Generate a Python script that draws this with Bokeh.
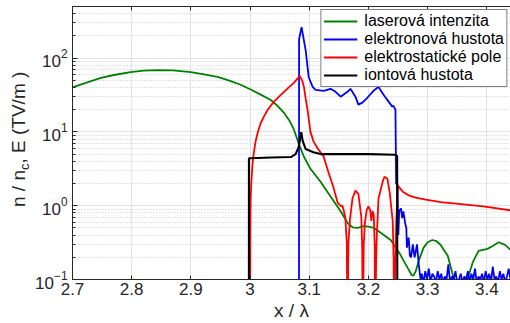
from bokeh.plotting import figure
from bokeh.models import (LinearAxis, Range1d, FixedTicker, NumeralTickFormatter,
                          Legend, LegendItem, Div, Row)
from bokeh.embed import file_html
from bokeh.resources import INLINE

# ---------------- data ----------------
x_ticks = [2.7, 2.8, 2.9, 3.0, 3.1, 3.2, 3.3, 3.4]

laser_x = [2.700, 2.725, 2.748, 2.770, 2.798, 2.820, 2.844, 2.870, 2.900, 2.920, 2.945,
           2.965, 2.984, 3.001, 3.018, 3.035, 3.046, 3.057, 3.066, 3.074, 3.082, 3.091,
           3.102, 3.119, 3.136, 3.153, 3.165, 3.173, 3.182, 3.192, 3.200, 3.209, 3.217,
           3.226, 3.238, 3.254, 3.266, 3.273, 3.276, 3.280, 3.285, 3.293, 3.300, 3.308,
           3.315, 3.322, 3.334, 3.342, 3.350, 3.356, 3.362, 3.368, 3.376, 3.386, 3.401,
           3.410, 3.420, 3.431, 3.440]
laser_y = [40.0, 46.8, 53.8, 59.0, 64.7, 67.5, 68.9, 68.0, 64.7, 60.5, 55.5,
           49.5, 43.5, 37.5, 32.0, 27.0, 22.7, 18.3, 14.4, 10.8, 7.0, 4.6,
           3.16, 2.11, 1.33, 0.84, 0.58, 0.51, 0.50, 0.53, 0.52, 0.50, 0.45,
           0.40, 0.34, 0.216, 0.145, 0.115, 0.113, 0.13, 0.18, 0.268, 0.32, 0.343,
           0.33, 0.294, 0.21, 0.12, 0.07, 0.06, 0.08, 0.105, 0.169, 0.244, 0.26,
           0.285, 0.32, 0.294, 0.252]

electron_x = [3.0826, 3.0828, 3.0870, 3.0939, 3.0990, 3.1057, 3.1108, 3.1243, 3.1360,
              3.1445, 3.1530, 3.1645, 3.1696, 3.1780, 3.1830, 3.1898, 3.1980, 3.2085,
              3.2170, 3.2255, 3.2340, 3.2402, 3.2419, 3.2456, 3.2468, 3.2490, 3.2505,
              3.2520, 3.2550, 3.2570, 3.2590, 3.2620, 3.2640, 3.2650, 3.2680, 3.2700,
              3.2720, 3.2750, 3.2780, 3.2800, 3.2820, 3.2850, 3.2880,
              3.290, 3.293, 3.296, 3.299, 3.302, 3.305, 3.308, 3.311, 3.314, 3.317,
              3.320, 3.323, 3.326, 3.329, 3.332, 3.335, 3.338, 3.341, 3.344, 3.347,
              3.350, 3.353, 3.356, 3.359, 3.362, 3.365, 3.368, 3.371, 3.374, 3.377,
              3.380, 3.383, 3.386, 3.389, 3.392, 3.395, 3.398, 3.401, 3.404, 3.407,
              3.410, 3.413, 3.416, 3.419, 3.422, 3.425, 3.428, 3.431, 3.434, 3.437, 3.440]
electron_y = [0.001, 180.0, 262.0, 128.0, 55.5, 40.7, 37.2, 36.0, 38.3,
              34.9, 30.0, 34.9, 38.3, 30.0, 23.4, 24.9, 29.0, 36.0,
              40.7, 31.8, 25.7, 22.0, 22.7, 20.1, 2.0, 1.9, 0.4,
              0.84, 0.92, 0.68, 0.84, 0.58, 0.50, 0.27, 0.37, 0.21,
              0.20, 0.30, 0.20, 0.24, 0.30, 0.16, 0.10,
              0.12, 0.09, 0.13, 0.10, 0.14, 0.09, 0.12, 0.11, 0.09, 0.13,
              0.10, 0.12, 0.09, 0.11, 0.10, 0.16, 0.09, 0.11, 0.10, 0.13,
              0.09, 0.10, 0.12, 0.09, 0.11, 0.10, 0.13, 0.09, 0.12, 0.10,
              0.14, 0.09, 0.11, 0.10, 0.12, 0.09, 0.13, 0.10, 0.12, 0.09,
              0.15, 0.10, 0.11, 0.09, 0.13, 0.10, 0.12, 0.09, 0.11, 0.14, 0.10]

field_x = [3.0, 3.0002, 3.0005, 3.001, 3.002, 3.004, 3.006, 3.009, 3.013, 3.018, 3.024,
           3.030, 3.040, 3.052, 3.063, 3.074, 3.084, 3.088, 3.091, 3.094, 3.097, 3.102,
           3.107, 3.114, 3.124, 3.132, 3.141, 3.148, 3.153, 3.156, 3.158, 3.161, 3.1635,
           3.1645, 3.166, 3.169, 3.173, 3.178, 3.183, 3.188, 3.1895, 3.1905, 3.192, 3.194,
           3.197, 3.200, 3.203, 3.205, 3.207, 3.209, 3.2105, 3.2115, 3.213, 3.214, 3.217,
           3.224, 3.227, 3.232, 3.236, 3.241, 3.2425, 3.2435, 3.245, 3.247, 3.249, 3.250,
           3.258, 3.268, 3.280, 3.297, 3.322, 3.348, 3.394, 3.440]
field_y = [0.001, 0.1, 0.5, 1.2, 2.0, 3.6, 5.0, 7.2, 9.9, 13.2, 16.5,
           20.1, 25.5, 31.8, 38.5, 46.1, 57.3, 50.0, 40.7, 28.0, 20.1, 10.0,
           7.5, 6.0, 4.7, 2.9, 1.75, 1.1, 0.99, 1.0, 0.88, 0.68, 0.3,
           0.01, 0.3, 0.68, 1.25, 1.6, 1.45, 0.7, 0.25, 0.01, 0.3, 0.58,
           0.87, 0.98, 0.87, 0.62, 0.85, 0.74, 0.3, 0.01, 0.2, 0.37, 1.25,
           2.11, 2.47, 2.32, 1.49, 0.62, 0.2, 0.01, 0.12, 0.6, 1.5, 1.86,
           1.55, 1.38, 1.29, 1.21, 1.12, 1.07, 0.98, 0.866]

ion_x = [2.998, 2.9981, 3.0, 3.035, 3.069, 3.077, 3.082, 3.0865, 3.089, 3.094, 3.107,
         3.119, 3.150, 3.200, 3.245, 3.2485, 3.2490]
ion_y = [0.001, 4.4, 4.4, 4.5, 4.56, 5.0, 6.2, 9.9, 7.5, 5.85, 5.3,
         5.0, 5.0, 5.0, 4.9, 4.7, 0.001]

series_names = ["laserová intenzita", "elektronová hustota", "elektrostatické pole", "iontová hustota"]
series_colors = ["#008000", "#0000ff", "#ff0000", "#000000"]

x_label = "x / λ"
y_label_parts = ["n / n", "c", ", E (TV/m )"]

FONT = "Liberation Sans"
AX = "#262626"

p = figure(width=480, height=323, y_axis_type="log",
           x_range=Range1d(2.7, 3.44), y_range=Range1d(0.1, 500),
           output_backend="svg", toolbar_location=None,
           width_policy="fixed", height_policy="fixed",
           min_border_left=42, min_border_right=0, min_border_top=6, min_border_bottom=41)
p.outline_line_color = None
p.background_fill_color = "white"
p.border_fill_color = "white"

# x axis (bottom)
xa = p.xaxis[0]
xa.ticker = FixedTicker(ticks=x_ticks)
xa.formatter = NumeralTickFormatter(format="0.[0]")
xa.major_label_text_font = FONT
xa.major_label_text_font_size = "17px"
xa.major_label_text_line_height = 1.0
xa.major_label_text_color = AX
xa.major_label_standoff = 3
xa.major_tick_in = 4
xa.major_tick_out = 0
xa.major_tick_line_color = AX
xa.minor_tick_line_color = None
xa.axis_line_color = AX
xa.axis_label = x_label
xa.axis_label_text_font = FONT
xa.axis_label_text_font_size = "19px"
xa.axis_label_text_line_height = 1.0
xa.axis_label_text_font_style = "normal"
xa.axis_label_text_color = AX
xa.axis_label_standoff = 2

# y axis (left)
ya = p.yaxis[0]
ya.major_label_text_font = FONT
ya.major_label_text_font_size = "17px"
ya.major_label_text_color = AX
ya.major_label_standoff = 5
ya.major_tick_in = 5
ya.major_tick_out = 0
ya.minor_tick_in = 3
ya.minor_tick_out = 0
ya.major_tick_line_color = AX
ya.minor_tick_line_color = AX
ya.axis_line_color = AX

# top axis: tick marks only
top = LinearAxis(ticker=FixedTicker(ticks=x_ticks), major_label_text_font_size="1px",
                 major_label_text_alpha=0, major_label_standoff=0,
                 major_tick_in=4, major_tick_out=0, major_tick_line_color=AX,
                 minor_tick_line_color=None, axis_line_color=AX)
p.add_layout(top, "above")

# grids
p.xgrid.ticker = FixedTicker(ticks=x_ticks)
p.xgrid.grid_line_color = "#e2e2e2"
p.ygrid.grid_line_color = "#e2e2e2"
p.ygrid.minor_grid_line_color = "#c8c8c8"
p.ygrid.minor_grid_line_dash = "1 2"

# lines
r_laser = p.line(laser_x, laser_y, line_color=series_colors[0], line_width=1.8)
r_elec = p.line(electron_x, electron_y, line_color=series_colors[1], line_width=1.8)
r_field = p.line(field_x, field_y, line_color=series_colors[2], line_width=1.8)
r_ion = p.line(ion_x, ion_y, line_color=series_colors[3], line_width=2.1)

legend = Legend(items=[LegendItem(label=series_names[0], renderers=[r_laser]),
                       LegendItem(label=series_names[1], renderers=[r_elec]),
                       LegendItem(label=series_names[2], renderers=[r_field]),
                       LegendItem(label=series_names[3], renderers=[r_ion])],
                location="top_right", label_text_font=FONT, label_text_font_size="16px",
                label_text_line_height=1.0,
                label_text_color="#000000", glyph_width=34, glyph_height=16,
                label_height=16, spacing=0, padding=2, margin=3, label_standoff=7,
                border_line_color="#000000", border_line_width=1,
                background_fill_color="white", background_fill_alpha=1.0)
p.add_layout(legend, "center")

# rotated y-axis title with a real subscript
ylab_html = (
    '<div style="position:absolute;left:9px;top:207px;transform-origin:0 0;'
    'transform:rotate(-90deg);white-space:nowrap;font-family:\'Liberation Sans\';'
    'font-size:19px;line-height:19px;color:#262626;">'
    + y_label_parts[0]
    + '<span style="font-size:13px;position:relative;top:4px;">' + y_label_parts[1] + '</span>'
    + y_label_parts[2] + '</div>'
)
ylab = Div(text=ylab_html, width=30, height=323, margin=0,
           width_policy="fixed", height_policy="fixed",
           styles={"width": "30px", "min-width": "30px", "height": "323px"})

layout = Row(children=[ylab, p], spacing=0, width=510, height=323)
open("out.html", "w").write(file_html(layout, INLINE))
